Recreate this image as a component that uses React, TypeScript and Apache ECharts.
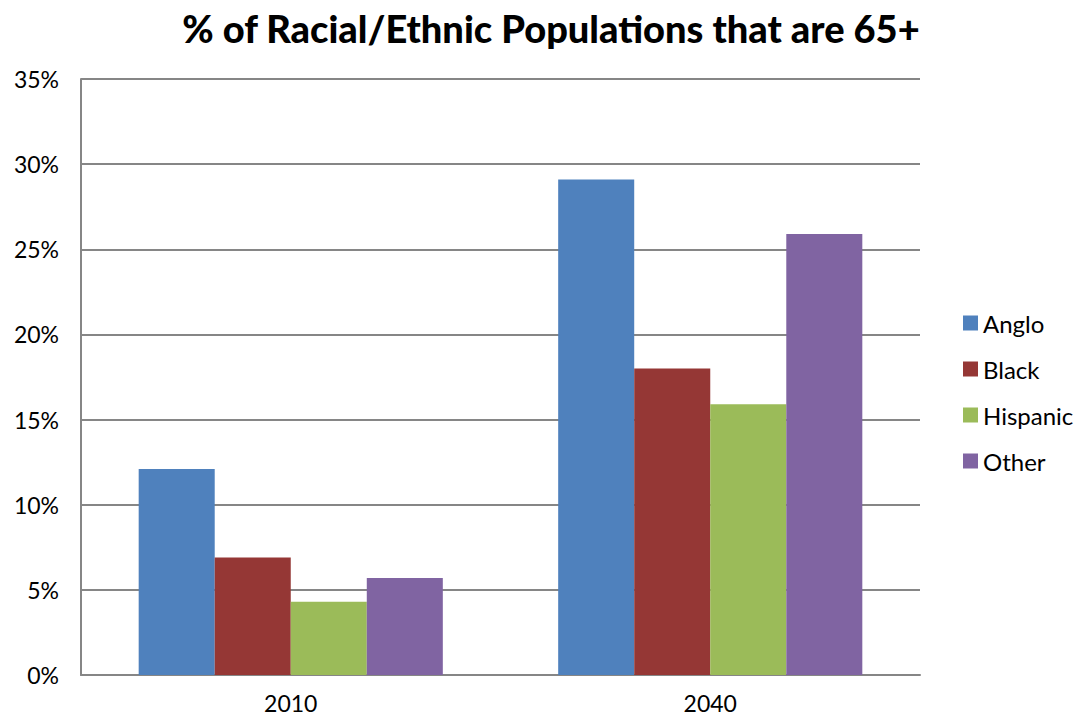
import React, { useEffect, useRef } from "react";
import * as echarts from "echarts";

const categories = ["2010", "2040"];
const seriesNames = ["Anglo", "Black", "Hispanic", "Other"];
const anglo = [12.1, 29.1];
const black = [6.9, 18.0];
const hispanic = [4.3, 15.9];
const other = [5.7, 25.9];
const colors = ["#4F81BD", "#953735", "#9BBB59", "#8064A2"];

export default function App() {
  const ref = useRef<HTMLDivElement>(null);
  useEffect(() => {
    if (!ref.current) return;
    const chart = echarts.init(ref.current, null, { renderer: "svg" });
    const values = [anglo, black, hispanic, other];
    chart.setOption({
      animation: false,
      backgroundColor: "#ffffff",
      textStyle: { fontFamily: "Lato" },
      title: {
        text: "% of Racial/Ethnic Populations that are 65+",
        left: 546,
        textAlign: "center",
        top: 4,
        textStyle: { fontFamily: "Lato", fontWeight: 900, fontSize: 38, color: "#000" },
      },
      legend: {
        orient: "vertical",
        left: 958,
        top: 306,
        itemWidth: 15,
        itemHeight: 15,
        itemGap: 22,
        icon: "rect",
        textStyle: { fontFamily: "Lato", fontSize: 24, color: "#000", padding: [0, 0, 0, 0] },
        data: seriesNames,
      },
      grid: { left: 81, right: 155, top: 79, bottom: 43, containLabel: false },
      xAxis: {
        type: "category",
        data: categories,
        axisLine: { lineStyle: { color: "#868686", width: 2 } },
        axisTick: { show: false },
        axisLabel: { fontFamily: "Lato", fontSize: 23, color: "#000", margin: 16 },
      },
      yAxis: {
        type: "value",
        min: 0,
        max: 35,
        interval: 5,
        axisLine: { show: true, lineStyle: { color: "#868686", width: 2 } },
        axisTick: { show: false },
        splitLine: { lineStyle: { color: "#868686", width: 2 } },
        axisLabel: { fontFamily: "Lato", fontSize: 23, color: "#000", margin: 22, formatter: "{value}%" },
      },
      series: seriesNames.map((name, i) => ({
        name,
        type: "bar",
        data: values[i],
        barGap: "0%",
        barCategoryGap: "27.5%",
        itemStyle: { color: colors[i] },
      })),
    });
    return () => chart.dispose();
  }, []);
  return <div ref={ref} style={{ position: "fixed", left: 0, top: 0, width: 1075, height: 718 }} />;
}
